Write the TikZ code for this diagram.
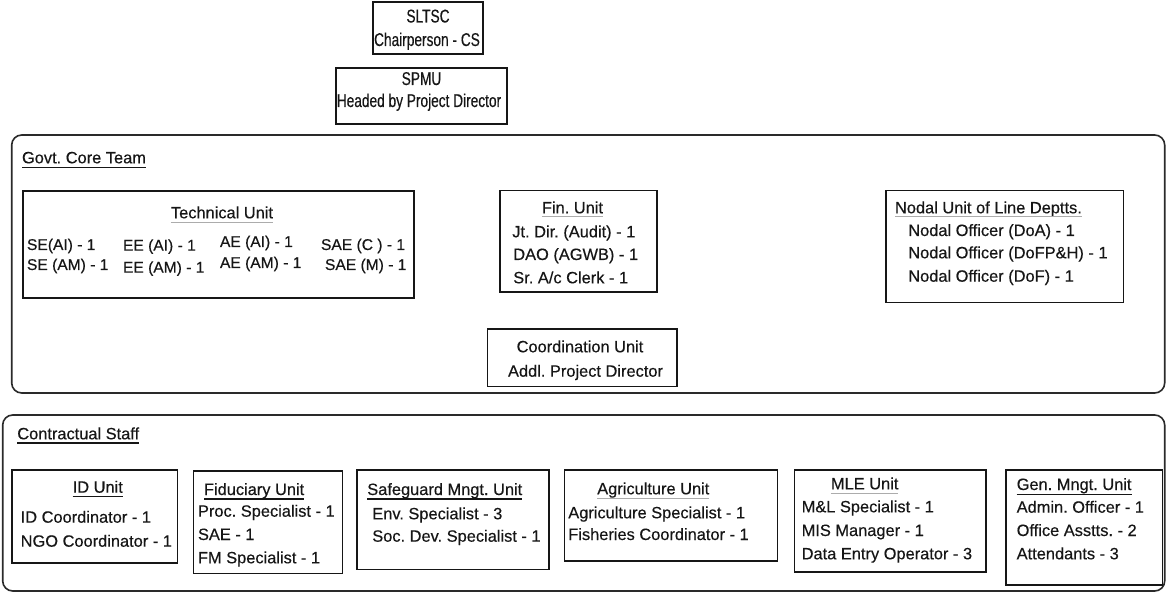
\documentclass[tikz,border=0pt]{standalone}
\usepackage{fontspec}
\setmainfont[FakeBold=0.35]{Liberation Sans}
\newfontfamily\topf[FakeStretch=0.74,FakeBold=0.35]{Liberation Sans}
\frenchspacing
\definecolor{ink}{HTML}{161616}
\definecolor{frm}{HTML}{2A2A2A}
\tikzset{
  box/.style={draw=ink, line width=1.6pt, rectangle, inner sep=0pt, outer sep=0pt, anchor=north west},
  frame/.style={draw=frm, line width=1.6pt, rectangle, rounded corners=10pt, inner sep=0pt, outer sep=0pt, anchor=north west},
  txt/.style={inner sep=0pt, outer sep=0pt, text=ink, font=\fontsize{16.4}{20}\selectfont},
  ttxt/.style={txt, font=\fontsize{15.6}{19}\selectfont},
  toptxt/.style={inner sep=0pt, outer sep=0pt, text=ink, font=\topf\fontsize{18.5}{22}\selectfont},
  ul/.style={draw=ink, line width=1.3pt},
  ulg/.style={draw=gray!65, line width=1.3pt},
}
\begin{document}
\begin{tikzpicture}[x=1pt,y=-1pt]
\fill[white] (0,0) rectangle (1167,593);
\useasboundingbox (0,0) rectangle (1167,593);

% top boxes
\node[box, minimum width=110pt, minimum height=52pt] (sltsc) at (373,2) {};
\node[toptxt, anchor=base] (sltscA) at (428,22.5) {SLTSC};
\node[toptxt, anchor=base] (sltscB) at (427,46) {Chairperson - CS};

\node[box, minimum width=171pt, minimum height=56pt] (spmu) at (336,68) {};
\node[toptxt, anchor=base] (spmuA) at (421.5,85) {SPMU};
\node[toptxt, anchor=base] (spmuB) at (419,107) {Headed by Project Director};

% Govt core team frame
\node[frame, minimum width=1153pt, minimum height=258pt] (gov) at (11.7,135) {};
\node[txt, anchor=base west] (govT) at (22,163.3) {Govt. Core Team};
\draw[ul] ([yshift=-4.4pt]govT.base west) -- ([yshift=-4.4pt]govT.base east);

% Technical unit
\node[box, minimum width=391pt, minimum height=107pt] (tech) at (22.7,191) {};
\node[txt, anchor=base] (techT) at (222,218.3) {Technical Unit};
\draw[ulg] ([yshift=-4.5pt]techT.base west) -- ([yshift=-4.5pt]techT.base east);
\node[ttxt, anchor=base west] (t11) at (27,250) {SE(AI) - 1};
\node[ttxt, anchor=base west] (t12) at (123,250.7) {EE (AI) - 1};
\node[ttxt, anchor=base west] (t13) at (220,247) {AE (AI) - 1};
\node[ttxt, anchor=base west] (t14) at (321,250) {SAE (C ) - 1};
\node[ttxt, anchor=base west] (t21) at (27,270) {SE (AM) - 1};
\node[ttxt, anchor=base west] (t22) at (123,272.7) {EE (AM) - 1};
\node[ttxt, anchor=base west] (t23) at (220,268) {AE (AM) - 1};
\node[ttxt, anchor=base west] (t24) at (325,270) {SAE (M) - 1};

% Fin unit
\node[box, minimum width=156.7pt, minimum height=101.6pt] (fin) at (500,190.7) {};
\node[txt, anchor=base] (finT) at (572.5,213.3) {Fin. Unit};
\draw[ulg] ([yshift=-3.5pt]finT.base west) -- ([yshift=-3.5pt]finT.base east);
\node[txt, anchor=base west] (f1) at (512.3,237.3) {Jt. Dir. (Audit) - 1};
\node[txt, anchor=base west] (f2) at (513.3,260) {DAO (AGWB) - 1};
\node[txt, anchor=base west] (f3) at (513.3,283.3) {Sr. A/c Clerk - 1};

% Nodal unit
\node[box, minimum width=237.6pt, minimum height=112pt] (nod) at (885.7,190.7) {};
\node[txt, anchor=base west] (nodT) at (895,213.3) {Nodal Unit of Line Deptts.};
\draw[ulg] ([yshift=-3.5pt]nodT.base west) -- ([yshift=-3.5pt]nodT.base east);
\node[txt, anchor=base west] (n1) at (908.3,236) {Nodal Officer (DoA) - 1};
\node[txt, anchor=base west] (n2) at (908.3,258.3) {Nodal Officer (DoFP\&H) - 1};
\node[txt, anchor=base west] (n3) at (908.3,281.7) {Nodal Officer (DoF) - 1};

% Coordination unit
\node[box, minimum width=189.4pt, minimum height=57.4pt] (coo) at (487.3,329.3) {};
\node[txt, anchor=base] (cooA) at (580,352.3) {Coordination Unit};
\node[txt, anchor=base] (cooB) at (585.5,376.7) {Addl. Project Director};

% Contractual staff frame
\node[frame, minimum width=1162pt, minimum height=176pt] (con) at (2.7,415) {};
\node[txt, anchor=base west] (conT) at (17.3,439.3) {Contractual Staff};
\draw[ul] ([yshift=-3.6pt]conT.base west) -- ([yshift=-3.6pt]conT.base east);

% ID unit
\node[box, minimum width=165.6pt, minimum height=92.7pt] (idu) at (11.7,470) {};
\node[txt, anchor=base] (iduT) at (97.8,492.7) {ID Unit};
\draw[ul] ([yshift=-4pt]iduT.base west) -- ([yshift=-4pt]iduT.base east);
\node[txt, anchor=base west] (id1) at (20.7,522.7) {ID Coordinator - 1};
\node[txt, anchor=base west] (id2) at (20.7,546.7) {NGO Coordinator - 1};

% Fiduciary unit
\node[box, minimum width=149pt, minimum height=102.6pt] (fid) at (193.3,470.7) {};
\node[txt, anchor=base west] (fidT) at (204,495) {Fiduciary Unit};
\draw[ul] ([yshift=-4pt]fidT.base west) -- ([yshift=-4pt]fidT.base east);
\node[txt, anchor=base west] (fd1) at (198,516.7) {Proc. Specialist - 1};
\node[txt, anchor=base west] (fd2) at (198,540) {SAE - 1};
\node[txt, anchor=base west] (fd3) at (198,563.3) {FM Specialist - 1};

% Safeguard unit
\node[box, minimum width=192.3pt, minimum height=99.3pt] (saf) at (356.7,470) {};
\node[txt, anchor=base west] (safT) at (367.3,495) {Safeguard Mngt. Unit};
\draw[ul] ([yshift=-4pt]safT.base west) -- ([yshift=-4pt]safT.base east);
\node[txt, anchor=base west] (sf1) at (372.3,519.3) {Env. Specialist - 3};
\node[txt, anchor=base west] (sf2) at (372.3,541.7) {Soc. Dev. Specialist - 1};

% Agriculture unit
\node[box, minimum width=213pt, minimum height=91pt] (agr) at (564.3,470) {};
\node[txt, anchor=base] (agrT) at (653.3,494.3) {Agriculture Unit};
\draw[ulg] ([yshift=-4pt]agrT.base west) -- ([yshift=-4pt]agrT.base east);
\node[txt, anchor=base west] (ag1) at (568.3,518.3) {Agriculture Specialist - 1};
\node[txt, anchor=base west] (ag2) at (568.3,540) {Fisheries Coordinator - 1};

% MLE unit
\node[box, minimum width=191.7pt, minimum height=101.7pt] (mle) at (794.3,470) {};
\node[txt, anchor=base] (mleT) at (864.7,489.3) {MLE Unit};
\draw[ulg] ([yshift=-4pt]mleT.base west) -- ([yshift=-4pt]mleT.base east);
\node[txt, anchor=base west] (ml1) at (801.7,512.3) {M\&L Specialist - 1};
\node[txt, anchor=base west] (ml2) at (801.7,536) {MIS Manager - 1};
\node[txt, anchor=base west] (ml3) at (801.7,559.3) {Data Entry Operator - 3};

% Gen. Mngt. unit
\node[box, minimum width=156.3pt, minimum height=115pt] (gen) at (1006,470) {};
\node[txt, anchor=base west] (genT) at (1016.7,490) {Gen. Mngt. Unit};
\draw[ul] ([yshift=-4.5pt]genT.base west) -- ([yshift=-4.5pt]genT.base east);
\node[txt, anchor=base west] (gn1) at (1016.7,512.7) {Admin. Officer - 1};
\node[txt, anchor=base west] (gn2) at (1016.7,536) {Office Asstts. - 2};
\node[txt, anchor=base west] (gn3) at (1016.7,559.3) {Attendants - 3};
\end{tikzpicture}
\end{document}
